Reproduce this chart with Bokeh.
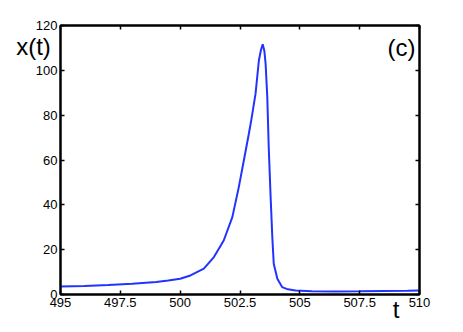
from bokeh.plotting import figure
from bokeh.models import Range1d, FixedTicker, LinearAxis, Label
from bokeh.embed import file_html
from bokeh.resources import INLINE

# data
t_vals = [495, 496, 497, 498, 499, 499.5, 500, 500.43, 500.99, 501.41, 501.82,
          502.18, 502.45, 502.66, 502.87, 502.97, 503.15, 503.29, 503.38, 503.45,
          503.52, 503.57, 503.64, 503.70, 503.78, 503.85, 503.91, 504.06, 504.26,
          504.5, 504.82, 505.5, 506.5, 507.5, 508.5, 509.5, 510]
x_vals = [3.6, 3.8, 4.2, 4.8, 5.6, 6.2, 7.0, 8.5, 11.5, 16.7, 24.1,
          34.5, 47.9, 59.8, 71.7, 77.7, 89.6, 104.5, 109.3, 111.6,
          108.5, 103.0, 88.1, 65.8, 43.4, 25.6, 13.7, 7.0, 3.3,
          2.3, 1.8, 1.5, 1.3, 1.4, 1.55, 1.7, 1.8]
x_ticks = [495, 497.5, 500, 502.5, 505, 507.5, 510]
x_tick_labels = ["495", "497.5", "500", "502.5", "505", "507.5", "510"]
y_ticks = [0, 20, 40, 60, 80, 100, 120]

FONT = "Liberation Sans"
NBSP = "\u00a0"

p = figure(frame_width=359, frame_height=269, output_backend="svg",
           toolbar_location=None, x_axis_location=None, y_axis_location=None,
           min_border_left=60, min_border_right=36, min_border_top=25, min_border_bottom=30,
           x_range=Range1d(495, 510), y_range=Range1d(0, 120))
p.grid.visible = False
p.outline_line_color = "black"
p.outline_line_width = 2
p.background_fill_color = "white"
p.border_fill_color = "white"

def style(ax, show_labels):
    ax.major_tick_in = 4
    ax.major_tick_out = 0
    ax.minor_tick_in = 0
    ax.minor_tick_out = 0
    ax.major_tick_line_width = 1.5
    ax.axis_line_width = 2
    ax.major_label_standoff = 3
    ax.major_label_text_font = FONT
    ax.major_label_text_font_size = "13px"
    ax.major_label_text_color = "black"
    ax.axis_label_text_font = FONT
    ax.axis_label_text_font_size = "24px"
    ax.axis_label_text_font_style = "normal"
    ax.axis_label_text_color = "black"
    if not show_labels:
        ax.major_label_text_color = None
        ax.major_label_text_font_size = "1px"
        ax.major_label_standoff = 0

xb = LinearAxis(ticker=FixedTicker(ticks=x_ticks),
                major_label_overrides={k: v for k, v in zip(x_ticks, x_tick_labels)})
style(xb, True)
xb.axis_label = "t" + NBSP * 7
xb.axis_label_standoff = -14
xb.axis_label_align = "end"
p.add_layout(xb, "below")

xt = LinearAxis(ticker=FixedTicker(ticks=x_ticks))
style(xt, False)
p.add_layout(xt, "above")

yl = LinearAxis(ticker=FixedTicker(ticks=y_ticks))
style(yl, True)
yl.axis_label = "\nx(t)"
yl.axis_label_orientation = "horizontal"
yl.axis_label_align = "end"
yl.axis_label_text_line_height = 1.55
yl.axis_label_standoff = -18
p.add_layout(yl, "left")

yr = LinearAxis(ticker=FixedTicker(ticks=y_ticks))
style(yr, False)
p.add_layout(yr, "right")

p.line(t_vals, x_vals, line_color="#2233ff", line_width=2)

p.add_layout(Label(x=327, y=247, x_units="screen", y_units="screen", text="(c)",
                   text_font=FONT, text_font_size="24px", text_baseline="middle",
                   text_align="left", text_color="black"))

open("out.html", "w").write(file_html(p, INLINE))
